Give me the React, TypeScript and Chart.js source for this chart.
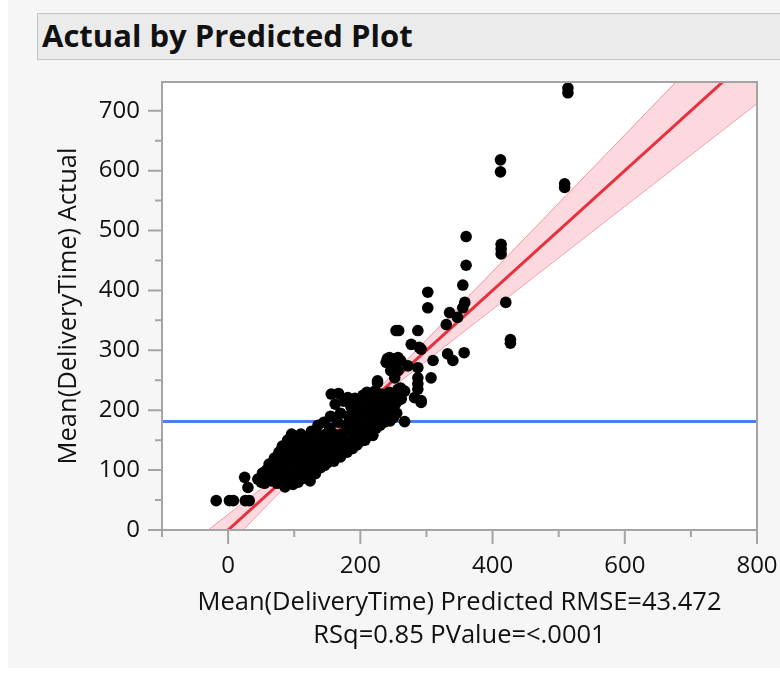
import React, { useEffect, useRef } from "react";
import { Chart, registerables } from "chart.js";

Chart.register(...registerables);

// ---- data ----
const predicted = [
  -18, 2, 8, 26, 32, 25, 30,
  45, 50, 52, 55, 58, 60, 62, 65, 66, 68, 70, 72, 74, 75, 77, 78, 80, 82, 83, 85, 86, 88, 90, 90, 92, 94, 95, 96, 98, 99, 100, 100,
  102, 104, 105, 106, 108, 110, 110, 112, 113, 115, 116, 118, 120, 120, 122, 124, 125, 126, 128, 130, 130, 132, 134, 135, 136, 138, 140, 140, 142, 144, 145, 146, 148, 150, 150,
  152, 154, 155, 156, 157, 158, 160, 160, 162, 163, 165, 166, 167, 168, 170, 170, 172, 174, 175, 176, 178, 180, 181, 182, 184, 185, 186, 188, 190, 190, 192, 194, 195, 196, 198, 200, 200,
  202, 204, 205, 207, 208, 210, 212, 214, 215, 217, 219, 220, 222, 224, 225, 226, 228, 230, 231, 232, 234, 236, 238, 240, 240, 242, 244, 245, 247, 248, 250, 252, 253, 255,
  239, 252, 272, 226, 252, 262, 257, 287, 282, 267, 241, 252, 261, 246, 257, 252, 261, 267, 257, 287, 287, 292, 292, 254, 244, 257, 252, 310, 307, 287, 226,
  258, 287, 277, 289, 292, 302, 302, 358, 355, 335, 347, 330, 332, 340, 357, 355, 360, 360, 413, 413, 413, 420, 427, 427, 412, 412, 509, 509, 514, 514,
];
const actual = [
  49, 49, 49, 49, 49, 88, 71,
  85, 80, 95, 78, 100, 88, 110, 82, 95, 105, 120, 90, 78, 100, 130, 112, 85, 140, 95, 125, 72, 105, 150, 118, 88, 135, 98, 160, 76, 112, 145, 128,
  92, 155, 120, 80, 138, 100, 160, 115, 86, 148, 130, 95, 155, 108, 140, 82, 120, 165, 100, 145, 130, 94, 112, 160, 175, 125, 104, 150, 138, 115, 180, 108, 160, 128, 112,
  145, 170, 190, 227, 118, 135, 160, 115, 210, 150, 128, 180, 228, 140, 122, 195, 160, 132, 215, 150, 175, 130, 221, 190, 140, 165, 205, 136, 180, 150, 220, 170, 142, 195, 160, 210, 148,
  185, 225, 170, 150, 200, 230, 175, 160, 215, 190, 158, 205, 232, 170, 185, 221, 200, 175, 227, 210, 190, 180, 215, 200, 216, 185, 230, 182, 205, 195, 188, 225, 210, 195,
  280, 271, 274, 246, 227, 219, 235, 235, 221, 181, 286, 286, 283, 266, 266, 254, 237, 232, 216, 254, 244, 216, 213, 333, 288, 288, 277, 283, 254, 271, 249,
  333, 333, 310, 305, 302, 397, 371, 380, 371, 363, 355, 343, 294, 283, 296, 409, 442, 490, 477, 469, 461, 380, 318, 312, 618, 598, 578, 572, 738, 730,
];

const meanActual = 181;
const fitX = [-100, 800];
const fitY = [-100, 800];
const bandX = [-100, 0, 50, 100, 150, 181, 220, 250, 300, 400, 500, 600, 700, 800];
const bandUpper = [-60, 26, 69, 112.5, 156.7, 186, 227.5, 261, 317.6, 431.5, 545.6, 659.7, 773.9, 888];
const bandLower = [-140, -26, 31, 87.5, 143.3, 176, 212.5, 239, 282.4, 368.5, 454.4, 540.3, 626.1, 712];

const xMajorTicks = [0, 200, 400, 600, 800];
const xMinorTicks = [-100, 100, 300, 500, 700];
const yMajorTicks = [0, 100, 200, 300, 400, 500, 600, 700];
const yMinorTicks = [50, 150, 250, 350, 450, 550, 650];

const xRange = [-100, 800];
const yRange = [0, 748];

const chartTitle = "Actual by Predicted Plot";
const xTitle = ["Mean(DeliveryTime) Predicted RMSE=43.472", "RSq=0.85 PValue=<.0001"];
const yTitle = "Mean(DeliveryTime) Actual";

const FONT = "'Open Sans', 'Noto Sans', sans-serif";

const framePlugin = {
  id: "frame",
  beforeDraw(chart: any) {
    const { ctx, chartArea: a } = chart;
    ctx.save();
    ctx.fillStyle = "#ffffff";
    ctx.fillRect(a.left, a.top, a.right - a.left, a.bottom - a.top);
    ctx.restore();
  },
  afterDraw(chart: any) {
    const { ctx, chartArea: a } = chart;
    const x = chart.scales.x;
    const y = chart.scales.y;
    ctx.save();
    ctx.strokeStyle = "#a4a4a4";
    ctx.lineWidth = 2;
    ctx.strokeRect(a.left, a.top, a.right - a.left, a.bottom - a.top);
    ctx.beginPath();
    for (const v of xMajorTicks) {
      const p = x.getPixelForValue(v);
      ctx.moveTo(p, a.bottom);
      ctx.lineTo(p, a.bottom + 14);
    }
    for (const v of xMinorTicks) {
      const p = x.getPixelForValue(v);
      ctx.moveTo(p, a.bottom);
      ctx.lineTo(p, a.bottom + 7);
    }
    for (const v of yMajorTicks) {
      const p = y.getPixelForValue(v);
      ctx.moveTo(a.left, p);
      ctx.lineTo(a.left - 14, p);
    }
    for (const v of yMinorTicks) {
      const p = y.getPixelForValue(v);
      ctx.moveTo(a.left, p);
      ctx.lineTo(a.left - 7, p);
    }
    ctx.stroke();
    ctx.restore();
  },
};

export default function App() {
  const ref = useRef<HTMLCanvasElement>(null);

  useEffect(() => {
    const canvas = ref.current!;
    const points = predicted.map((p, i) => ({ x: p, y: actual[i] }));
    const meanLine = [
      { x: xRange[0], y: meanActual },
      { x: xRange[1], y: meanActual },
    ];
    const fitLine = fitX.map((v, i) => ({ x: v, y: fitY[i] }));
    const upper = bandX.map((v, i) => ({ x: v, y: bandUpper[i] }));
    const lower = bandX.map((v, i) => ({ x: v, y: bandLower[i] }));

    const tickFont = { family: FONT, size: 24, lineHeight: 1.2 };
    const titleFont = { family: FONT, size: 25.5, lineHeight: 33 / 25.5 };

    const chart = new Chart(canvas, {
      type: "scatter",
      data: {
        datasets: [
          {
            type: "scatter",
            data: points,
            backgroundColor: "#000000",
            borderWidth: 0,
            pointRadius: 5.8,
            pointHoverRadius: 5.8,
          } as any,
          {
            type: "line",
            data: meanLine,
            borderColor: "#4a80ec",
            borderWidth: 3,
            pointRadius: 0,
            fill: false,
          } as any,
          {
            type: "line",
            data: fitLine,
            borderColor: "#e8313c",
            borderWidth: 3,
            pointRadius: 0,
            fill: false,
          } as any,
          {
            type: "line",
            data: upper,
            borderColor: "rgba(240,110,125,0.7)",
            borderWidth: 1,
            pointRadius: 0,
            tension: 0.3,
            fill: "+1",
            backgroundColor: "rgba(250,180,192,0.5)",
          } as any,
          {
            type: "line",
            data: lower,
            borderColor: "rgba(240,110,125,0.7)",
            borderWidth: 1,
            pointRadius: 0,
            tension: 0.3,
            fill: false,
          } as any,
        ],
      },
      options: {
        animation: false,
        responsive: false,
        devicePixelRatio: 1,
        events: [],
        layout: { padding: { top: 20, right: 23, left: 0, bottom: 0 } },
        plugins: {
          legend: { display: false },
          tooltip: { enabled: false },
        },
        scales: {
          x: {
            type: "linear",
            min: xRange[0],
            max: xRange[1],
            grid: { display: false, drawTicks: false },
            border: { display: false },
            afterBuildTicks: (s: any) => {
              s.ticks = xMajorTicks.map((v) => ({ value: v }));
            },
            afterFit: (s: any) => {
              s.height = 138;
              s.paddingLeft = 0;
              s.paddingRight = 0;
            },
            ticks: {
              font: tickFont,
              color: "#111111",
              padding: 22,
              maxRotation: 0,
              autoSkip: false,
              callback: (v: any) => String(v),
            },
            title: {
              display: true,
              text: xTitle,
              font: titleFont,
              color: "#111111",
              padding: { top: 0, bottom: 15.5 },
            },
          },
          y: {
            type: "linear",
            min: yRange[0],
            max: yRange[1],
            grid: { display: false, drawTicks: false },
            border: { display: false },
            afterBuildTicks: (s: any) => {
              s.ticks = yMajorTicks.map((v) => ({ value: v }));
            },
            afterFit: (s: any) => {
              s.width = 122;
              s.paddingTop = 0;
              s.paddingBottom = 0;
            },
            ticks: {
              font: tickFont,
              color: "#111111",
              padding: 22,
              autoSkip: false,
              callback: (v: any) => String(v),
            },
            title: {
              display: true,
              text: yTitle,
              font: titleFont,
              color: "#111111",
              padding: { top: 12.5, bottom: 0 },
            },
          },
        },
      } as any,
      plugins: [framePlugin],
    });
    return () => chart.destroy();
  }, []);

  return (
    <div
      style={{
        position: "absolute",
        left: 8,
        top: 0,
        width: 772,
        height: 668,
        background: "#f6f6f6",
        overflow: "hidden",
      }}
    >
      <div
        style={{
          position: "absolute",
          left: 29,
          top: 13,
          width: 760,
          height: 47,
          background: "#ebebeb",
          border: "1px solid #c4c4c4",
          boxSizing: "border-box",
        }}
      >
        <span
          style={{
            position: "absolute",
            left: 4,
            top: 1,
            fontFamily: FONT,
            fontWeight: 700,
            fontSize: 31,
            lineHeight: "40px",
            color: "#111",
            whiteSpace: "nowrap",
          }}
        >
          {chartTitle}
        </span>
      </div>
      <canvas
        ref={ref}
        width={740}
        height={606}
        style={{ position: "absolute", left: 32, top: 62, width: 740, height: 606 }}
      />
    </div>
  );
}
